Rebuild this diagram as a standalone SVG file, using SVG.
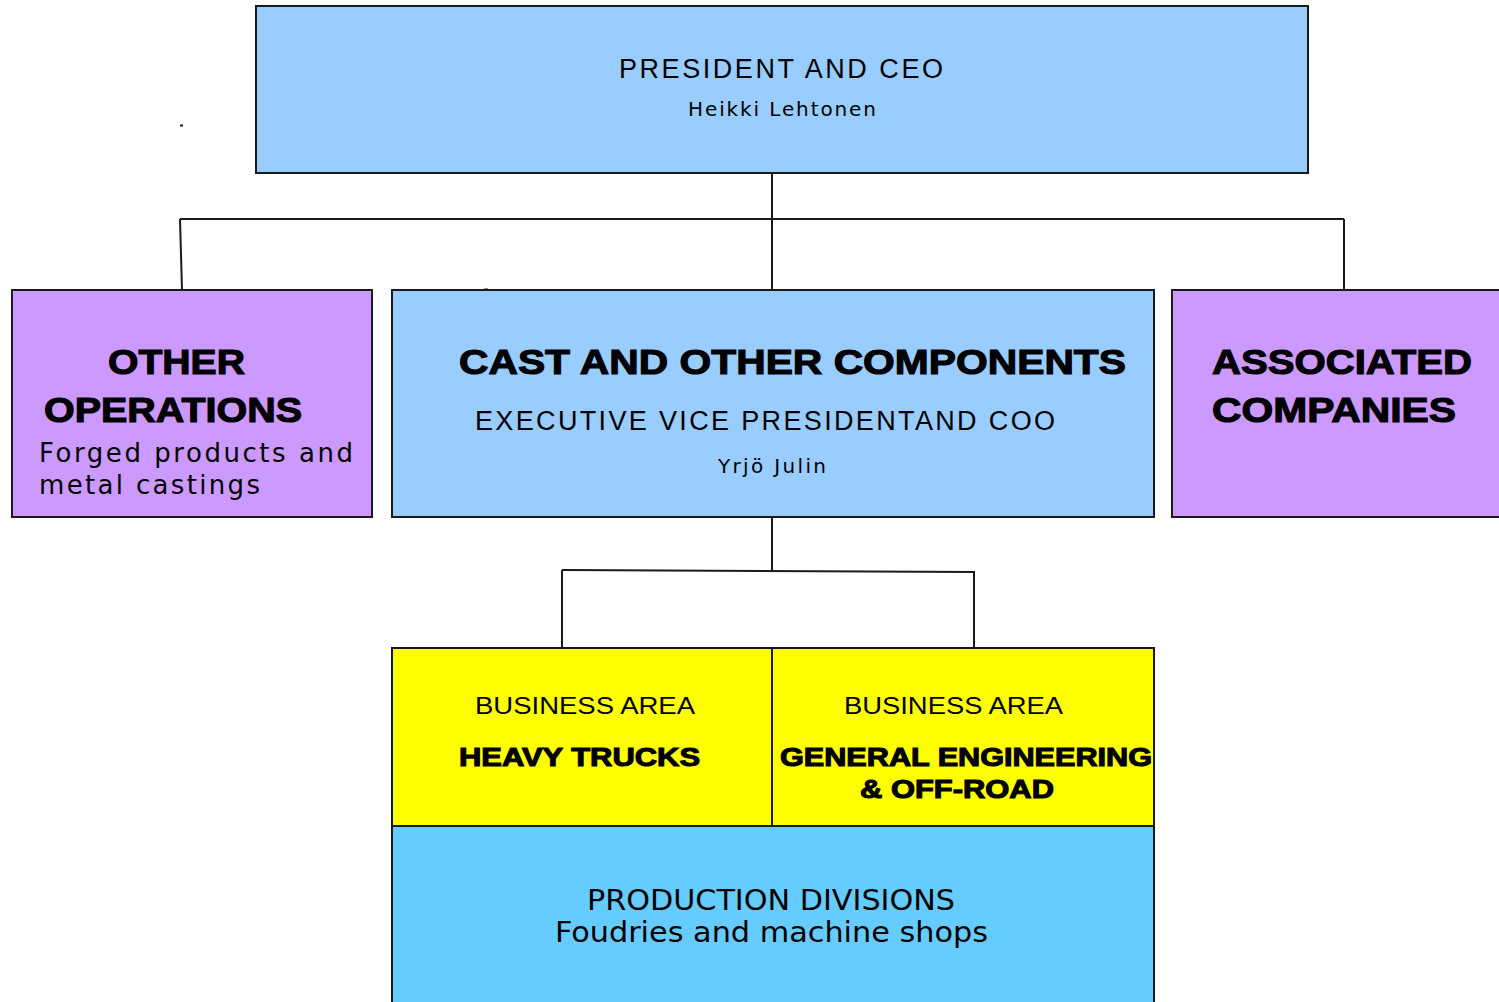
<svg xmlns="http://www.w3.org/2000/svg" width="1499" height="1002" viewBox="0 0 1499 1002">
  <style>
    .box { stroke: #1a1a1a; stroke-width: 2; }
    .exec { fill: #99CCFF; }
    .side { fill: #CC99FF; }
    .area { fill: #FFFF00; }
    .prod { fill: #66CCFF; }
    .wire { fill: none; stroke: #1a1a1a; stroke-width: 2; }
    text { fill: #000; font-family: "DejaVu Sans", Verdana, sans-serif; }
    .head { font-family: "Liberation Sans", Arial, sans-serif; font-weight: bold; stroke: #000; stroke-width: 1.1; }
    .plain { font-family: "Liberation Sans", Arial, sans-serif; }
    .narrow { font-family: "Liberation Sans Narrow", "DejaVu Sans Condensed", sans-serif; }
  </style>

  <rect x="0" y="0" width="1499" height="1002" fill="#fff"/>

  <g id="connectors">
    <path class="wire" d="M772 173 V290"/>
    <path class="wire" d="M180 219 H1344"/>
    <path class="wire" d="M180 219 L182 290"/>
    <path class="wire" d="M1344 219 V290"/>
    <path class="wire" d="M772 517 V570"/>
    <path class="wire" d="M562 570 L974 572"/>
    <path class="wire" d="M562 570 V648"/>
    <path class="wire" d="M974 571 V648"/>
    <path class="wire" d="M180 125.5 H183"/>
    <path class="wire" d="M484 289.5 H488"/>
  </g>

  <g id="president">
    <rect class="box exec" x="256" y="6" width="1052" height="167"/>
    <text class="plain" x="781" y="78" font-size="27" text-anchor="middle" textLength="324" lengthAdjust="spacing">PRESIDENT AND CEO</text>
    <text x="782" y="116" font-size="20" text-anchor="middle" textLength="188" lengthAdjust="spacing">Heikki Lehtonen</text>
  </g>

  <g id="other-operations">
    <rect class="box side" x="12" y="290" width="360" height="227"/>
    <text class="head" x="108" y="374" font-size="35" textLength="137" lengthAdjust="spacingAndGlyphs">OTHER</text>
    <text class="head" x="44" y="422" font-size="35" textLength="258" lengthAdjust="spacingAndGlyphs">OPERATIONS</text>
    <text x="39" y="462" font-size="26" textLength="314" lengthAdjust="spacing">Forged products and</text>
    <text x="39" y="494" font-size="26" textLength="221" lengthAdjust="spacing">metal castings</text>
  </g>

  <g id="cast-components">
    <rect class="box exec" x="392" y="290" width="762" height="227"/>
    <text class="head" x="459" y="374" font-size="35" textLength="667" lengthAdjust="spacingAndGlyphs">CAST AND OTHER COMPONENTS</text>
    <text class="plain" x="475" y="430" font-size="27" textLength="580" lengthAdjust="spacing">EXECUTIVE VICE PRESIDENTAND COO</text>
    <text x="718" y="473" font-size="20" textLength="108" lengthAdjust="spacing">Yrjö Julin</text>
  </g>

  <g id="associated-companies">
    <rect class="box side" x="1172" y="290" width="340" height="227"/>
    <text class="head" x="1212" y="374" font-size="35" textLength="260" lengthAdjust="spacingAndGlyphs">ASSOCIATED</text>
    <text class="head" x="1212" y="422" font-size="35" textLength="244" lengthAdjust="spacingAndGlyphs">COMPANIES</text>
  </g>

  <g id="heavy-trucks">
    <rect class="box area" x="392" y="648" width="380" height="178"/>
    <text class="plain" x="475" y="714" font-size="24" textLength="220" lengthAdjust="spacingAndGlyphs">BUSINESS AREA</text>
    <text class="head" x="459" y="766" font-size="26" textLength="241" lengthAdjust="spacingAndGlyphs">HEAVY TRUCKS</text>
  </g>

  <g id="general-engineering">
    <rect class="box area" x="772" y="648" width="382" height="178"/>
    <text class="plain" x="844" y="714" font-size="24" textLength="219" lengthAdjust="spacingAndGlyphs">BUSINESS AREA</text>
    <text class="head" x="780" y="766" font-size="26" textLength="372" lengthAdjust="spacingAndGlyphs">GENERAL ENGINEERING</text>
    <text class="head" x="860" y="798" font-size="26" textLength="194" lengthAdjust="spacingAndGlyphs">&amp; OFF-ROAD</text>
  </g>

  <g id="production-divisions">
    <rect class="box prod" x="392" y="826" width="762" height="190"/>
    <text class="narrow" x="587" y="910" font-size="28" textLength="368" lengthAdjust="spacingAndGlyphs">PRODUCTION DIVISIONS</text>
    <text class="narrow" x="555" y="942" font-size="28" textLength="433" lengthAdjust="spacingAndGlyphs">Foudries and machine shops</text>
  </g>
</svg>
